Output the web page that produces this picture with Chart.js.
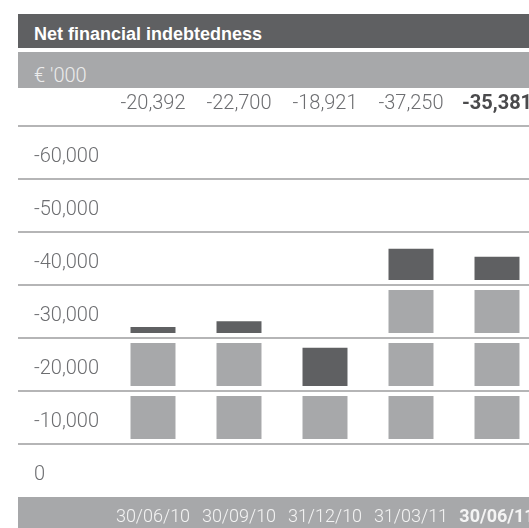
<!DOCTYPE html>
<html>
<head>
<meta charset="utf-8">
<script src="https://cdn.jsdelivr.net/npm/chart.js@4/dist/chart.umd.min.js"></script>
<style>
  html, body { margin: 0; padding: 0; background: #fff; overflow: hidden; width: 529px; height: 528px; }
  .bar { position: absolute; left: 18px; width: 530px; box-sizing: border-box; padding-left: 16px; white-space: nowrap; }
  #title { top: 14px; height: 34px; background: #5f6062; color: #fff; font: bold 18px "Liberation Sans", sans-serif; line-height: 40px; }
  #unit { top: 52px; height: 36px; background: #a7a8aa; color: #ececec; font: 300 20px Roboto, sans-serif; line-height: 46px; overflow: hidden; }
  #box { position: absolute; left: 18px; top: 88px; width: 522px; height: 450px; }
</style>
</head>
<body>
<div class="bar" id="title">Net financial indebtedness</div>
<div class="bar" id="unit">€ '000</div>
<div id="box"><canvas id="chart" width="522" height="450"></canvas></div>
<script>
const periods = ["30/06/10", "30/09/10", "31/12/10", "31/03/11", "30/06/11"];
const debt = [-20392, -22700, -18921, -37250, -35381];
const yMin = -60000;
const yMax = 10000;
const band = 10000;

const DARK = "#5f6062";
const LIGHT = "#a7a8aa";
const TEXT = "#6d6e71";
const GAP = 950; // white space kept at each end of a 10,000 block
const BLOCK = band - 2 * GAP;
const lastIdx = periods.length - 1;

const fmt = (v) => v.toLocaleString("en-US");

function bandPart(v, k) {
  return Math.min(Math.max(Math.abs(v) - k * band, 0), band);
}

// one dataset per 10,000 band, each bar split into blocks
const bandCount = Math.ceil(Math.max(...debt.map(Math.abs)) / band);
const datasets = [];
for (let k = 0; k < bandCount; k++) {
  datasets.push({
    data: debt.map((v) => {
      const part = bandPart(v, k);
      if (!part) {
        return null;
      }
      const start = k * band + GAP;
      return [-start, -(start + (part / band) * BLOCK)];
    }),
    backgroundColor: (ctx) => (bandPart(debt[ctx.dataIndex], k) === band ? LIGHT : DARK),
    barPercentage: 1,
    categoryPercentage: 0.523,
    minBarLength: 6,
  });
}

const frame = {
  id: "frame",
  beforeDraw(chart) {
    const { ctx, chartArea, width, height } = chart;
    ctx.save();
    ctx.fillStyle = LIGHT;
    ctx.fillRect(0, chartArea.bottom, width, height - chartArea.bottom);
    ctx.restore();
  },
  beforeDatasetsDraw(chart) {
    const { ctx, width } = chart;
    const y = chart.scales.y;
    ctx.save();
    ctx.strokeStyle = "#9c9c9e";
    ctx.lineWidth = 1.6;
    for (const t of y.ticks) {
      if (t.value >= yMax) {
        continue;
      }
      const py = y.getPixelForValue(t.value);
      ctx.beginPath();
      ctx.moveTo(0, py);
      ctx.lineTo(width, py);
      ctx.stroke();
    }
    ctx.restore();
  },
};

// lineHeight is used to push the labels away from the plot area
const boldLast = (size, lineHeight) => (ctx) => ({
  family: "Roboto",
  size,
  lineHeight,
  weight: ctx.index === lastIdx ? "bold" : 300,
});

new Chart(document.getElementById("chart"), {
  type: "bar",
  data: { labels: periods, datasets },
  plugins: [frame],
  options: {
    responsive: false,
    animation: false,
    devicePixelRatio: 1,
    layout: { padding: { left: 16, top: 0, right: 0, bottom: 0 } },
    plugins: { legend: { display: false }, tooltip: { enabled: false } },
    scales: {
      x: {
        stacked: true,
        grid: { display: false, drawTicks: false },
        border: { display: false },
        ticks: { color: "#f4f4f4", font: boldLast(18, 2.333), padding: 0, maxRotation: 0, autoSkip: false },
        afterFit: (s) => { s.height = 41; },
      },
      xTop: {
        type: "category",
        position: "top",
        offset: true,
        grid: { display: false, drawTicks: false },
        border: { display: false },
        ticks: {
          color: (ctx) => (ctx.index === lastIdx ? "#4a4a4c" : TEXT),
          font: boldLast(20, 2.2),
          padding: 0,
          maxRotation: 0,
          autoSkip: false,
          callback: (val, i) => fmt(debt[i]),
        },
        afterFit: (s) => { s.height = 38; },
      },
      y: {
        stacked: false,
        reverse: true,
        min: yMin,
        max: yMax,
        grid: { display: false, drawTicks: false },
        border: { display: false },
        ticks: {
          stepSize: band,
          color: TEXT,
          font: { family: "Roboto", size: 20, weight: 300 },
          crossAlign: "far",
          labelOffset: 31,
          callback: (v) => (v >= yMax ? "" : fmt(v)),
        },
        afterFit: (s) => { s.width = 76; },
      },
    },
  },
});
</script>
</body>
</html>
